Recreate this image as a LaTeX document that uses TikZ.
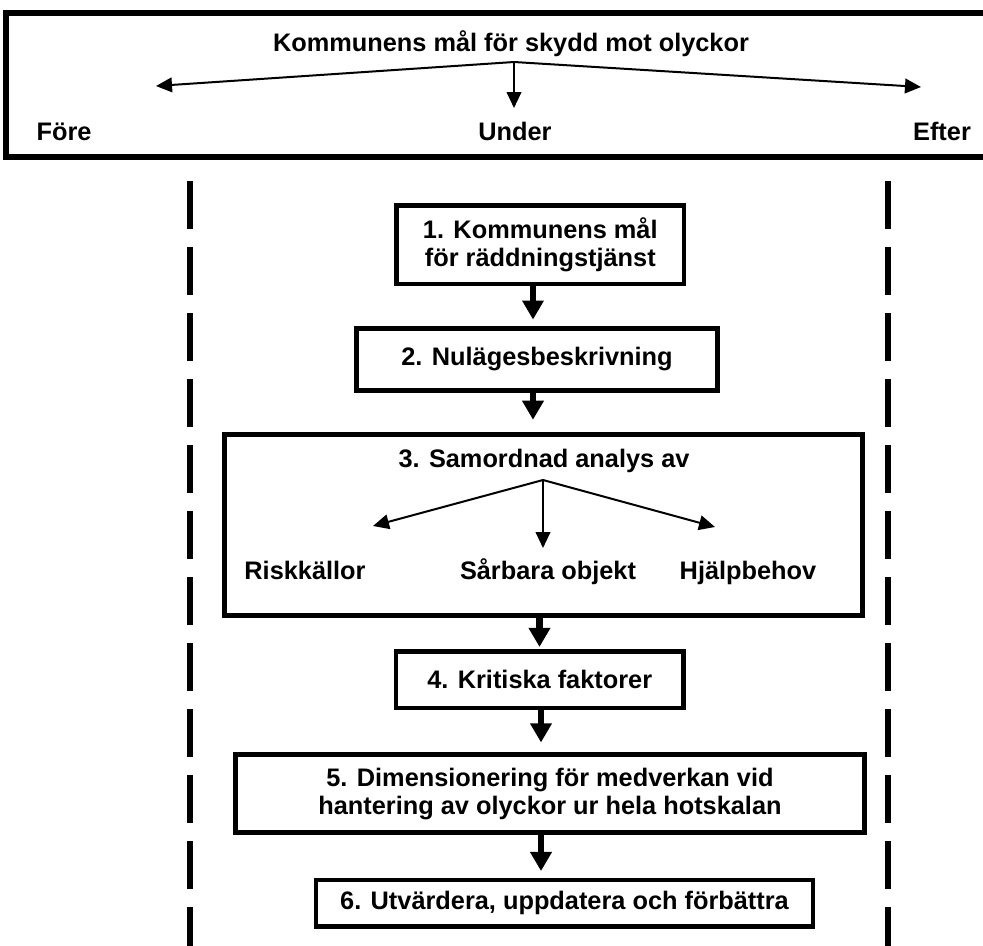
\documentclass[tikz,border=0pt]{standalone}
\usepackage{fontspec}
\setmainfont{Liberation Sans}
\usetikzlibrary{arrows.meta}
\begin{document}
\begin{tikzpicture}[x=0.75pt,y=-0.75pt,
  every node/.style={font=\bfseries\fontsize{19pt}{21pt}\selectfont, inner sep=0pt, align=center},
  box/.style={draw, line width=3.4pt, fill=white},
  bigbox/.style={draw, line width=4.5pt},
  divider/.style={line width=4.5pt, dash pattern=on 36pt off 13.5pt},
  bigarrow/.style={line width=5pt, -{Triangle[width=15.5pt,length=14.3pt]}},
  thinarrow/.style={line width=1.5pt, -{Triangle[width=11pt,length=12pt]}},
  lbl/.style={anchor=base}]
\useasboundingbox (0,0) rectangle (983,946);

% top box
\node[bigbox, minimum width=741.4pt, minimum height=108pt] (top) at (500.75,85) {};
\node[lbl] (t0) at (511,51) {Kommunens mål för skydd mot olyckor};
\node[lbl] (fore) at (64,140) {Före};
\node[lbl] (under) at (515,140) {Under};
\node[lbl] (efter) at (942,140) {Efter};
\coordinate (f0) at (514,62);
\coordinate (f0l) at (156,86);
\coordinate (f0m) at (514,108);
\coordinate (f0r) at (921,87);
\draw[thinarrow] (f0) -- (f0l);
\draw[thinarrow] (f0) -- (f0m);
\draw[thinarrow] (f0) -- (f0r);

% dividers
\coordinate (dl1) at (189.7,181);
\coordinate (dl2) at (189.7,990);
\coordinate (dr1) at (887.5,181);
\coordinate (dr2) at (887.5,990);
\draw[divider] (dl1) -- (dl2);
\draw[divider] (dr1) -- (dr2);

% boxes
\node[box, minimum width=215.5pt, minimum height=58.9pt] (b1) at (540.3,244.8) {1. Kommunens mål\\för räddningstjänst};
\node[box, minimum width=270.75pt, minimum height=46.5pt] (b2) at (537,359.5) {2. Nulägesbeskrivning};
\node[box, minimum width=478.5pt, minimum height=135.75pt] (b3) at (543.5,525.2) {};
\node[box, minimum width=215.9pt, minimum height=42.4pt] (b4) at (539.75,679.75) {4. Kritiska faktorer};
\node[box, minimum width=471.5pt, minimum height=58.35pt] (b5) at (550,793.6) {5. Dimensionering för medverkan vid\\hantering av olyckor ur hela hotskalan};
\node[box, minimum width=372.75pt, minimum height=34.9pt] (b6) at (564.5,903.25) {6. Utvärdera, uppdatera och förbättra};

% box 3 content
\node[lbl] (t3) at (544,467) {3. Samordnad analys av};
\coordinate (f3) at (543,480);
\coordinate (f3l) at (373,526);
\coordinate (f3m) at (543,548);
\coordinate (f3r) at (715,527);
\draw[thinarrow] (f3) -- (f3l);
\draw[thinarrow] (f3) -- (f3m);
\draw[thinarrow] (f3) -- (f3r);
\node[lbl] (risk) at (305,579) {Riskkällor};
\node[lbl] (sarb) at (548,579) {Sårbara objekt};
\node[lbl] (hjalp) at (748,579) {Hjälpbehov};

% flow arrows
\coordinate (a12) at (533,0);
\coordinate (a23) at (533,0);
\coordinate (a34) at (539.5,0);
\coordinate (a45) at (541,0);
\coordinate (a56) at (541,0);
\draw[bigarrow, shorten >=5pt] (b1.south -| a12) -- (b2.north -| a12);
\draw[bigarrow, shorten >=9.5pt] (b2.south -| a23) -- (b3.north -| a23);
\draw[bigarrow, shorten >=1.7pt] (b3.south -| a34) -- (b4.north -| a34);
\draw[bigarrow, shorten >=7.5pt] (b4.south -| a45) -- (b5.north -| a45);
\draw[bigarrow, shorten >=5pt] (b5.south -| a56) -- (b6.north -| a56);
\end{tikzpicture}
\end{document}
